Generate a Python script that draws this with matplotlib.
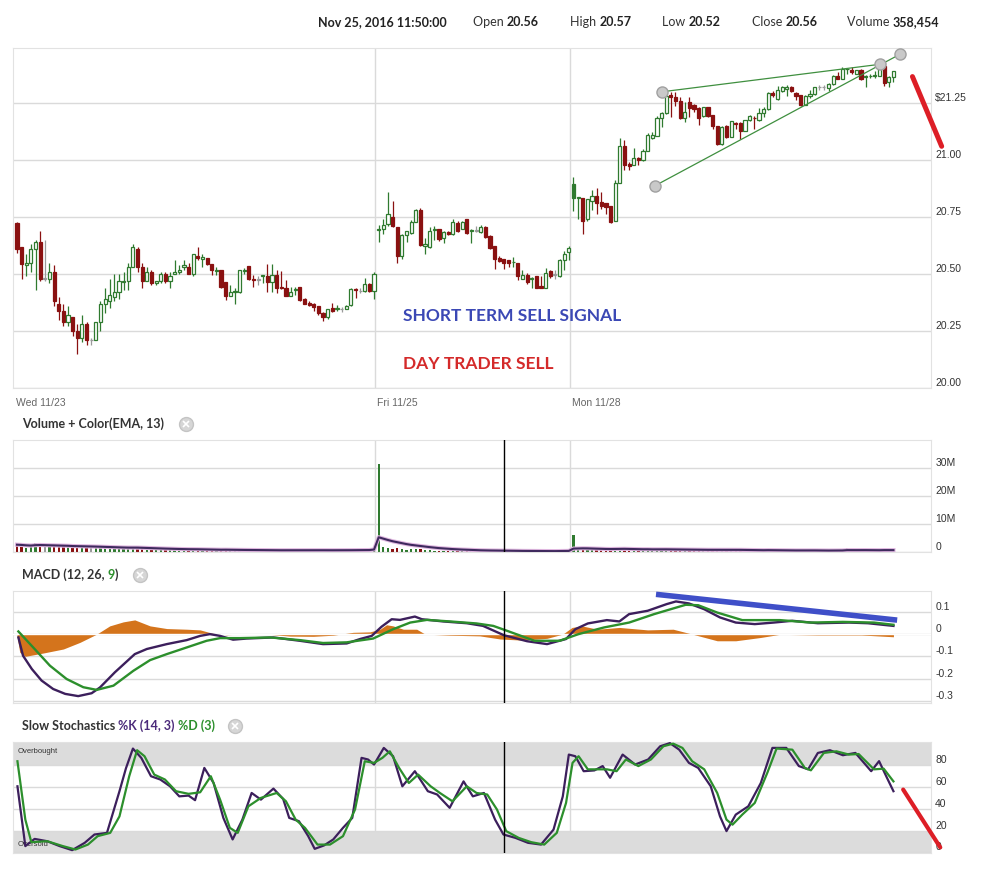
import numpy as np
import pandas as pd
import matplotlib
matplotlib.use('Agg')
import matplotlib.pyplot as plt
from matplotlib.lines import Line2D

# ---- 5-minute bars, Wed 11/23 (0-77), Fri 11/25 (78-119), Mon 11/28 (120-189) ----
opens = [20.725, 20.617, 20.54, 20.55, 20.61, 20.64, 20.48, 20.48, 20.51, 20.37,
         20.34, 20.29, 20.31, 20.25, 20.22, 20.28, 20.21, 20.21, 20.29, 20.37,
         20.38, 20.40, 20.42, 20.465, 20.47, 20.53, 20.61, 20.53, 20.47, 20.51,
         20.46, 20.47, 20.50, 20.47, 20.50, 20.51, 20.53, 20.53, 20.50, 20.58,
         20.565, 20.57, 20.545, 20.515, 20.52, 20.465, 20.405, 20.42, 20.42, 20.515,
         20.535, 20.48, 20.475, 20.49, 20.49, 20.465, 20.495, 20.445, 20.44, 20.405,
         20.43, 20.445, 20.39, 20.375, 20.37, 20.36, 20.33, 20.31, 20.35, 20.345,
         20.345, 20.345, 20.365, 20.435, 20.425, 20.425, 20.455, 20.425,
         20.695, 20.70, 20.72, 20.75, 20.705, 20.58, 20.67, 20.68, 20.73, 20.78,
         20.625, 20.62, 20.695, 20.70, 20.66, 20.685, 20.676, 20.725, 20.70, 20.74,
         20.69, 20.69, 20.683, 20.705, 20.668, 20.623, 20.57, 20.567, 20.564, 20.553,
         20.55, 20.48, 20.494, 20.48, 20.49, 20.447, 20.44, 20.515, 20.497, 20.49,
         20.564, 20.596,
         20.896, 20.835, 20.835, 20.74, 20.823, 20.842, 20.816, 20.81, 20.80, 20.735,
         20.90, 21.064, 20.985, 20.977, 21.01, 20.999, 21.042, 21.098, 21.108, 21.186,
         21.206, 21.284, 21.276, 21.262, 21.186, 21.254, 21.243, 21.23, 21.196, 21.232,
         21.199, 21.15, 21.069, 21.152, 21.10, 21.164, 21.164, 21.13, 21.177, 21.186,
         21.178, 21.206, 21.225, 21.295, 21.27, 21.305, 21.313, 21.32, 21.296, 21.287,
         21.244, 21.28, 21.29, 21.32, 21.32, 21.316, 21.335, 21.371, 21.357, 21.399,
         21.396, 21.38, 21.396, 21.365, 21.369, 21.371, 21.371, 21.415, 21.343, 21.367]
highs = [20.73, 20.62, 20.59, 20.63, 20.65, 20.69, 20.65, 20.55, 20.54, 20.40,
         20.37, 20.36, 20.31, 20.28, 20.32, 20.29, 20.22, 20.29, 20.38, 20.44,
         20.48, 20.50, 20.50, 20.51, 20.55, 20.63, 20.62, 20.55, 20.53, 20.52,
         20.47, 20.51, 20.51, 20.51, 20.56, 20.54, 20.56, 20.55, 20.59, 20.62,
         20.59, 20.57, 20.545, 20.53, 20.52, 20.465, 20.45, 20.44, 20.52, 20.525,
         20.535, 20.495, 20.49, 20.495, 20.545, 20.545, 20.52, 20.515, 20.475, 20.445,
         20.445, 20.445, 20.395, 20.38, 20.375, 20.36, 20.335, 20.345, 20.375, 20.365,
         20.355, 20.365, 20.44, 20.44, 20.44, 20.485, 20.46, 20.51,
         20.715, 20.74, 20.86, 20.82, 20.705, 20.675, 20.69, 20.738, 20.787, 20.79,
         20.66, 20.705, 20.71, 20.70, 20.688, 20.69, 20.743, 20.735, 20.735, 20.74,
         20.70, 20.713, 20.716, 20.713, 20.67, 20.623, 20.578, 20.567, 20.564, 20.575,
         20.55, 20.52, 20.505, 20.488, 20.493, 20.49, 20.527, 20.52, 20.516, 20.567,
         20.60, 20.623,
         20.928, 20.84, 20.835, 20.83, 20.867, 20.88, 20.86, 20.81, 20.80, 20.914,
         21.098, 21.09, 20.99, 21.053, 21.013, 21.05, 21.118, 21.123, 21.196, 21.21,
         21.294, 21.298, 21.30, 21.276, 21.254, 21.276, 21.247, 21.232, 21.235, 21.235,
         21.199, 21.152, 21.148, 21.155, 21.174, 21.167, 21.167, 21.178, 21.198, 21.196,
         21.23, 21.232, 21.298, 21.303, 21.325, 21.325, 21.328, 21.325, 21.298, 21.287,
         21.284, 21.31, 21.323, 21.328, 21.33, 21.338, 21.376, 21.386, 21.408, 21.401,
         21.408, 21.396, 21.40, 21.376, 21.38, 21.393, 21.43, 21.415, 21.371, 21.393]
lows = [20.594, 20.48, 20.49, 20.51, 20.43, 20.47, 20.47, 20.46, 20.36, 20.30,
        20.27, 20.27, 20.23, 20.15, 20.20, 20.19, 20.19, 20.21, 20.25, 20.33,
        20.35, 20.38, 20.39, 20.43, 20.43, 20.53, 20.51, 20.44, 20.47, 20.45,
        20.45, 20.46, 20.46, 20.44, 20.50, 20.50, 20.52, 20.50, 20.49, 20.56,
        20.53, 20.54, 20.495, 20.495, 20.44, 20.385, 20.405, 20.37, 20.415, 20.50,
        20.475, 20.445, 20.45, 20.46, 20.42, 20.42, 20.415, 20.435, 20.405, 20.405,
        20.41, 20.38, 20.37, 20.36, 20.34, 20.32, 20.295, 20.305, 20.335, 20.34,
        20.335, 20.345, 20.36, 20.395, 20.415, 20.42, 20.42, 20.39,
        20.64, 20.675, 20.713, 20.705, 20.55, 20.565, 20.64, 20.675, 20.73, 20.623,
        20.59, 20.616, 20.65, 20.646, 20.635, 20.67, 20.67, 20.683, 20.70, 20.676,
        20.635, 20.683, 20.68, 20.66, 20.61, 20.522, 20.552, 20.524, 20.53, 20.53,
        20.475, 20.48, 20.457, 20.44, 20.44, 20.44, 20.44, 20.483, 20.48, 20.487,
        20.52, 20.563,
        20.779, 20.743, 20.674, 20.735, 20.78, 20.765, 20.786, 20.765, 20.724, 20.735,
        20.90, 20.955, 20.955, 20.977, 20.98, 20.995, 21.042, 21.094, 21.105, 21.145,
        21.203, 21.19, 21.24, 21.18, 21.167, 21.19, 21.21, 21.155, 21.19, 21.19,
        21.137, 21.065, 21.065, 21.098, 21.10, 21.137, 21.093, 21.127, 21.174, 21.137,
        21.174, 21.19, 21.222, 21.276, 21.266, 21.298, 21.28, 21.30, 21.266, 21.24,
        21.242, 21.273, 21.288, 21.306, 21.306, 21.303, 21.332, 21.357, 21.357, 21.38,
        21.38, 21.38, 21.352, 21.32, 21.36, 21.36, 21.37, 21.327, 21.32, 21.343]
closes = [20.612, 20.543, 20.55, 20.61, 20.64, 20.48, 20.48, 20.51, 20.38, 20.34,
          20.29, 20.32, 20.25, 20.22, 20.28, 20.21, 20.21, 20.29, 20.37, 20.39,
          20.41, 20.42, 20.47, 20.47, 20.53, 20.62, 20.53, 20.47, 20.51, 20.46,
          20.47, 20.50, 20.47, 20.49, 20.51, 20.52, 20.54, 20.50, 20.59, 20.57,
          20.575, 20.545, 20.52, 20.52, 20.445, 20.405, 20.42, 20.425, 20.52, 20.52,
          20.48, 20.475, 20.475, 20.495, 20.465, 20.495, 20.44, 20.44, 20.405, 20.42,
          20.435, 20.385, 20.37, 20.365, 20.355, 20.33, 20.31, 20.345, 20.34, 20.35,
          20.345, 20.36, 20.435, 20.43, 20.425, 20.455, 20.425, 20.50,
          20.70, 20.715, 20.765, 20.71, 20.58, 20.67, 20.688, 20.73, 20.78, 20.627,
          20.632, 20.69, 20.70, 20.653, 20.683, 20.676, 20.73, 20.69, 20.73, 20.68,
          20.695, 20.69, 20.708, 20.665, 20.616, 20.568, 20.556, 20.55, 20.55, 20.555,
          20.49, 20.497, 20.467, 20.483, 20.44, 20.44, 20.505, 20.49, 20.497, 20.564,
          20.59, 20.613,
          20.835, 20.84, 20.735, 20.828, 20.845, 20.81, 20.80, 20.794, 20.73, 20.90,
          21.064, 20.977, 20.973, 21.01, 20.999, 21.042, 21.11, 21.112, 21.186, 21.206,
          21.28, 21.276, 21.262, 21.186, 21.213, 21.228, 21.225, 21.184, 21.232, 21.193,
          21.148, 21.069, 21.145, 21.10, 21.17, 21.157, 21.13, 21.177, 21.193, 21.184,
          21.206, 21.225, 21.295, 21.288, 21.31, 21.32, 21.32, 21.303, 21.28, 21.243,
          21.28, 21.29, 21.32, 21.32, 21.32, 21.335, 21.371, 21.357, 21.40, 21.40,
          21.386, 21.396, 21.357, 21.37, 21.371, 21.375, 21.408, 21.34, 21.367, 21.39]
volume_m = [2.6, 2.0, 1.6, 1.8, 3.3, 2.8, 2.2, 1.9, 2.5, 2.1,
            2.0, 1.7, 1.6, 1.9, 2.1, 1.8, 1.4, 1.8, 1.6, 1.5,
            1.4, 1.3, 1.5, 1.2, 1.3, 1.6, 1.5, 1.2, 1.0, 1.1,
            0.9, 1.0, 0.9, 0.8, 0.9, 0.8, 0.7, 0.9, 1.0, 0.8,
            0.7, 0.6, 0.7, 0.5, 0.8, 0.9, 0.6, 0.5, 0.8, 0.6,
            0.6, 0.5, 0.4, 0.5, 0.7, 0.6, 0.7, 0.5, 0.6, 0.5,
            0.5, 0.7, 0.6, 0.5, 0.6, 0.7, 0.8, 0.7, 0.5, 0.6,
            0.5, 0.6, 0.9, 0.7, 0.6, 0.9, 0.8, 2.0,
            31.5, 1.8, 1.4, 1.2, 1.6, 1.0, 0.8, 0.9, 1.1, 0.9,
            0.7, 0.6, 0.5, 0.4, 0.5, 0.3, 0.5, 0.4, 0.4, 0.5,
            0.3, 0.2, 0.3, 0.3, 0.4, 0.5, 0.3, 0.3, 0.2, 0.2,
            0.4, 0.3, 0.3, 0.2, 0.4, 0.2, 0.4, 0.3, 0.2, 0.4,
            0.5, 0.6,
            6.2, 1.5, 1.6, 1.2, 0.9, 1.0, 0.8, 0.7, 0.9, 1.3,
            1.4, 1.1, 0.8, 0.9, 0.7, 0.8, 1.0, 0.7, 1.0, 0.9,
            1.0, 0.8, 0.7, 0.9, 0.8, 0.7, 0.6, 0.8, 0.6, 0.7,
            0.8, 1.0, 0.9, 0.8, 0.7, 0.6, 0.7, 0.6, 0.5, 0.5,
            0.6, 0.5, 0.8, 0.5, 0.6, 0.5, 0.4, 0.5, 0.5, 0.6,
            0.6, 0.5, 0.6, 0.4, 0.4, 0.5, 0.6, 0.5, 0.7, 1.4,
            0.6, 0.7, 0.8, 0.6, 0.5, 0.5, 0.7, 0.9, 0.6, 0.7]

day_labels = ['Wed 11/23', 'Fri 11/25', 'Mon 11/28']
day_starts = [0, 78, 120]
cursor_bar = 105

# MACD (12, 26, 9) at the given bars
macd_idx = [0.3, 1.3, 3.2, 5.3, 7.8, 10.4, 13.2, 16.1, 17.9, 21.1, 25.4, 28, 32.3, 36.6, 39.5,
            41.6, 43.8, 46.6, 49.5, 55.3, 61, 66, 71.1, 74, 76.5, 78.6, 80.8, 82.6, 85.8,
            87.3, 91.9, 97, 100.5, 105, 110, 114.3, 118.4, 120.4, 123.1, 127.2, 129.9, 132,
            136, 140.1, 142.1, 144.9, 148.2, 151.6, 155, 159.1, 163.2, 167.2, 172.7, 179.4,
            183.5, 189]
macd_line = [-0.015, -0.097, -0.157, -0.209, -0.247, -0.269, -0.279, -0.266, -0.24, -0.172,
             -0.09, -0.067, -0.045, -0.027, -0.008, 0.0, -0.008, -0.025, -0.02, -0.015,
             -0.03, -0.045, -0.042, -0.022, -0.008, 0.033, 0.067, 0.064, 0.079, 0.067,
             0.057, 0.049, 0.037, -0.005, -0.032, -0.045, -0.022, 0.022, 0.048, 0.063,
             0.057, 0.09, 0.105, 0.135, 0.147, 0.138, 0.112, 0.075, 0.052, 0.045, 0.052,
             0.06, 0.049, 0.052, 0.049, 0.037]
signal_idx = [0.3, 3.5, 7.1, 10.7, 14.3, 17.2, 20.8, 25.1, 28.7, 32.3, 36.6, 40.9, 43.8,
              48.1, 54.6, 61, 66, 71.1, 76.8, 81.1, 84.8, 88.4, 93.4, 99.1, 102.7, 105,
              111.6, 117, 121.1, 126.6, 132, 137.4, 144.2, 146.9, 151, 156.4, 164.5,
              171.2, 178.1, 184.8, 189]
signal_line = [0.012, -0.06, -0.142, -0.202, -0.239, -0.251, -0.232, -0.165, -0.117, -0.09,
               -0.06, -0.03, -0.018, -0.018, -0.015, -0.027, -0.04, -0.037, -0.02, 0.022,
               0.052, 0.064, 0.057, 0.048, 0.037, 0.02, -0.03, -0.03, 0.0, 0.03, 0.052,
               0.09, 0.132, 0.13, 0.097, 0.063, 0.063, 0.052, 0.055, 0.052, 0.042]
hist_idx = [0, 0.6, 1.8, 5.7, 10, 13.6, 17.2, 20, 22.9, 25.4, 28.7, 32.3, 36.6, 39.5, 42.3,
            45.2, 48, 53.9, 58.9, 63.9, 68.2, 72.5, 76.1, 78.3, 79.7, 81.1, 83.3, 86.2, 88,
            93.4, 99.8, 104.2, 108.9, 114.3, 117.7, 119.7, 121.8, 125.2, 129.9, 136, 141.5,
            145.6, 151, 155, 160.4, 164.5, 172.7, 182.1, 189]
hist_vals = [-0.008, -0.082, -0.1, -0.085, -0.067, -0.037, 0.0, 0.037, 0.055, 0.064, 0.037,
             0.025, 0.022, 0.019, 0.003, -0.003, 0.0, 0.0, -0.009, -0.01, -0.005, 0.008,
             0.01, 0.022, 0.042, 0.037, 0.022, 0.022, 0.0, -0.005, -0.008, -0.022, -0.027,
             -0.019, 0.0, 0.03, 0.037, 0.022, 0.03, 0.019, 0.022, 0.0, -0.03, -0.03,
             -0.015, -0.001, -0.004, -0.004, -0.012]

# Slow stochastics %K (14, 3) and %D (3)
k_idx = [0.1, 1.8, 3.8, 6.5, 9.2, 11.9, 14.6, 16.7, 19.4, 22.1, 23.5, 25, 26.8, 28.9, 30.9,
         33, 35, 37, 38.4, 40.4, 42.4, 44.5, 46.5, 48.6, 50.6, 52.6, 55.3, 57.4, 58.7, 60.8,
         62.8, 64.2, 66.2, 68.2, 70.3, 72.3, 74.3, 75.7, 77, 79.1, 81.1, 83.1, 85.8, 88.6,
         90.6, 93.3, 96.3, 98.3, 100.7, 103.1, 104.9, 107.5, 110.2, 113, 115.7, 117.7, 119,
         120.4, 122.2, 124.5, 126.3, 127.9, 130.6, 133.3, 136.1, 138.7, 140.8, 142.8, 144.9,
         146.9, 149.6, 151.6, 153, 155, 157.7, 160.4, 162.9, 165.9, 168.6, 170.6, 172.7,
         175.3, 178.1, 180.8, 184.2, 185.9, 187.6, 189]
k_vals = [60.5, 5.8, 12.4, 10.3, 5.8, 2.1, 8.8, 16.4, 17.9, 56, 77, 95, 86.5, 69.7, 66.7,
          60.5, 51.3, 52, 47.8, 77.3, 63.5, 31.6, 11.9, 30, 54.4, 48.3, 58.4, 48.9, 31.6,
          28.6, 14.9, 3.3, 6.4, 11.9, 22.5, 31.6, 86.5, 85, 80.4, 95.6, 88, 60.5, 74.3, 56,
          53, 40.8, 65, 51.3, 54.4, 30, 16.4, 13.3, 8.8, 7.2, 20.9, 51.3, 89.5, 88, 74.3,
          75, 79, 68.3, 89.5, 80.4, 85, 97.1, 100, 94, 81.9, 77.3, 60.5, 33, 19.5, 34.6,
          42.2, 63.5, 95.6, 95.6, 79, 76, 91, 93.5, 88.9, 91, 74.3, 83.5, 68.3, 56]
d_idx = [0.1, 1.8, 3.1, 6.5, 9.9, 12.6, 15.3, 17.4, 20.1, 22.1, 24.2, 25.9, 27.5, 29.6,
         31.9, 34.3, 37, 39.5, 41.8, 43.8, 45.9, 47.6, 49.9, 52.6, 56, 58, 60.1, 62.1, 64.8,
         67.5, 70.3, 72.9, 75, 77, 78.8, 80.4, 82.4, 84.5, 86.5, 89.2, 91.2, 93.9, 97, 99.1,
         101.4, 103.5, 105.5, 108.2, 110.9, 113.7, 116.4, 118.4, 119.8, 121.1, 123.1, 125.2,
         127.2, 129.3, 131.3, 134, 136.7, 139.4, 141.5, 143.5, 145.6, 148.2, 151, 153,
         154.3, 156.4, 159.1, 161.8, 163.8, 167.2, 169.9, 171.2, 174, 176.7, 179.4, 181.5,
         184.8, 186.9, 189]
d_vals = [83.4, 30, 9.4, 10.3, 5.8, 2.7, 7.2, 14.9, 17.9, 33, 69.7, 93.5, 88, 71.2, 66.7,
          56, 53.6, 55, 69.7, 48.3, 22.5, 17.9, 42.2, 49.9, 54.4, 46.8, 30, 22.5, 7.2, 7.2,
          14.9, 39.3, 83.4, 81.9, 86.5, 92.5, 77.3, 63.5, 71.2, 60.5, 54.4, 46.8, 60.5,
          54.4, 53, 39.3, 19.5, 13.3, 9.4, 7.2, 17.9, 45.3, 81.9, 88, 76, 76, 76, 74.3, 85,
          79, 85, 97.1, 99.5, 95.6, 83.4, 76, 54.4, 30, 25.4, 34.6, 45.3, 72.8, 95, 94,
          77.3, 75.1, 91, 92.5, 89.5, 90, 76, 76.6, 65]

# hand-drawn annotations (bar index, value)
upper_trend = ([139.0, 186.1], [21.30, 21.421])
lower_trend = ([137.5, 190.4], [20.887, 21.465])
price_red = ([193.1, 199.4], [21.367, 21.061])
macd_blue = ([137.8, 189.8], [0.179, 0.063])
stoch_red = ([191.1, 199.1], [57.5, 4.6])

header_time = 'Nov 25, 2016 11:50:00'
header_fields = ['Open', 'High', 'Low', 'Close', 'Volume']
header_values = ['20.56', '20.57', '20.52', '20.56', '358,454']

# ---------------------------------------------------------------
plt.rcParams['font.family'] = ['Liberation Sans', 'DejaVu Sans']
W, H = 986, 876
fig = plt.figure(figsize=(W / 100, H / 100), dpi=100)
rend = fig.canvas.get_renderer()

GREEN, RED, GRAY = '#2f7a2f', '#8a1111', '#9a9a9a'
PURPLE, LGREEN = '#3c1f5c', '#2c8f2c'
GRID = '#dadada'
XMIN, XMAX = -0.86, 197.1


def box(l, t, r, b):
    return fig.add_axes([l / W, 1 - b / H, (r - l) / W, (b - t) / H])


def style(ax, ticks, labels, ylim):
    ax.set_xlim(XMIN, XMAX)
    ax.set_ylim(*ylim)
    ax.set_yticks(ticks)
    ax.set_yticklabels(labels)
    ax.yaxis.tick_right()
    ax.tick_params(axis='y', length=0, pad=3, labelsize=7.5, labelcolor='#333333')
    for lab in ax.get_yticklabels():
        lab.set_va('bottom')
    ax.set_xticks([])
    ax.grid(axis='y', color=GRID, lw=1)
    ax.set_axisbelow(True)
    for s in ax.spines.values():
        s.set_color('#e2e2e2')
    for d in day_starts[1:]:
        ax.axvline(d - 0.8, color=GRID, lw=1, zorder=0)


def chain(x, y, pieces, size=9):
    for s, col, wt in pieces:
        t = fig.text(x / W, 1 - y / H, s, color=col, fontweight=wt, fontsize=size,
                     family='Lato', va='center', ha='left')
        x += t.get_window_extent(renderer=rend).width
    return x


def close_icon(x, y):
    fig.add_artist(Line2D([x / W], [1 - y / H], marker='o', ms=10, mfc='#d6d6d6',
                          mec='#c4c4c4', transform=fig.transFigure))
    fig.add_artist(Line2D([x / W], [1 - y / H], marker='x', ms=4, mew=1.2,
                          color='white', transform=fig.transFigure))


o, h, l, c = map(np.array, (opens, highs, lows, closes))
idx = np.arange(len(c))
prev_h = np.r_[h[0] + 1, h[:-1]]
edge, face = [], []
for i in idx:
    if np.isclose(c[i], o[i]):
        edge.append(GRAY); face.append('white')
    elif c[i] > o[i]:
        edge.append(GREEN); face.append('white')
    elif c[i] > prev_h[i]:
        edge.append(GREEN); face.append(GREEN)
    else:
        edge.append(RED); face.append(RED)

# ---- price panel ----
ax = box(13, 48, 931, 388)
style(ax, [20.0, 20.25, 20.5, 20.75, 21.0, 21.25],
      ['20.00', '20.25', '20.50', '20.75', '21.00', '$21.25'], (20.0, 21.4925))
ax.vlines(idx, l, h, colors=edge, lw=0.9, zorder=2)
ax.bar(idx, np.maximum(np.abs(c - o), 0.0015), bottom=np.minimum(o, c), width=0.68,
       color=face, edgecolor=edge, lw=0.9, zorder=3)
for xs, ys in (upper_trend, lower_trend):
    ax.plot(xs, ys, color='#3f8f3f', lw=0.9, zorder=4)
    ax.plot(xs[0], ys[0], 'o', ms=8, mfc='#c9c9c9', mec='#a0a0a0', zorder=5)
    ax.plot(xs[1], ys[1], 'o', ms=8, mfc='#c9c9c9', mec='#a0a0a0', zorder=5, clip_on=False)
ax.plot(*price_red, color='#dd1e26', lw=3.6, solid_capstyle='round', clip_on=False, zorder=6)
fig.text(403 / W, 1 - 316 / H, 'SHORT TERM SELL SIGNAL', color='#3b48b5', fontsize=12.5,
         fontweight='bold', family='Lato', va='center')
fig.text(403 / W, 1 - 364 / H, 'DAY TRADER SELL', color='#d42a2a', fontsize=12.5,
         fontweight='bold', family='Lato', va='center')
for lab, d in zip(day_labels, day_starts):
    ax.text(d - 0.3, -0.03, lab, transform=ax.get_xaxis_transform(), ha='left', va='top',
            fontsize=7.5, color='#666666')

# header
chain(318, 22, [(header_time, '#222222', 'bold')])
for x0, f, v in zip([473, 570, 662, 752, 847], header_fields, header_values):
    chain(x0, 22, [(f + ' ', '#333333', 'normal'), (v, '#222222', 'bold')])

# ---- volume panel ----
axv = box(13, 440, 931, 552)
style(axv, [0, 10, 20, 30], ['0', '10M', '20M', '30M'], (0, 40))
axv.bar(idx, volume_m, width=0.5, color=edge, zorder=2)
ema = pd.Series(volume_m).ewm(span=13, adjust=False).mean()
axv.plot(idx, ema, color='#e0b8e0', lw=3, zorder=3)
axv.plot(idx, ema, color='#3f2a5e', lw=1.5, zorder=4)
axv.axvline(cursor_bar, color='black', lw=1, zorder=5)
end = chain(22, 424, [('Volume + Color(EMA, 13)', '#333333', 'bold')])
close_icon(end + 22, 424)

# ---- MACD panel ----
axm = box(13, 591, 931, 703)
style(axm, [-0.3, -0.2, -0.1, 0, 0.1], ['-0.3', '-0.2', '-0.1', '0', '0.1'], (-0.31, 0.194))
axm.fill_between(hist_idx, hist_vals, 0, color='#d4741c', lw=0, zorder=2)
axm.axhline(0, color='white', lw=1.0, zorder=3)
axm.plot(macd_idx, macd_line, color=PURPLE, lw=1.7, zorder=4)
axm.plot(signal_idx, signal_line, color=LGREEN, lw=1.7, zorder=5)
axm.plot(*macd_blue, color='#3f4fc8', lw=4, solid_capstyle='butt', zorder=6)
axm.axvline(cursor_bar, color='black', lw=1, zorder=7)
end = chain(22, 575, [('MACD (12, 26, ', '#333333', 'bold'), ('9', LGREEN, 'bold'),
                      (')', '#333333', 'bold')])
close_icon(end + 22, 575)

# ---- slow stochastics panel ----
axs = box(13, 742, 931, 853)
style(axs, [0, 20, 40, 60, 80], ['0', '20', '40', '60', '80'], (-0.5, 101))
axs.axhspan(80, 101, color='#dcdcdc', lw=0, zorder=0)
axs.axhspan(-0.5, 20, color='#dcdcdc', lw=0, zorder=0)
axs.plot(k_idx, k_vals, color=PURPLE, lw=1.6, zorder=4)
axs.plot(d_idx, d_vals, color=LGREEN, lw=1.6, zorder=5)
axs.plot(*stoch_red, color='#dd1e26', lw=3, solid_capstyle='round', clip_on=False, zorder=6)
axs.axvline(cursor_bar, color='black', lw=1, zorder=7)
axs.text(0.005, 0.9, 'Overbought', transform=axs.transAxes, fontsize=5.5, color='#333333')
axs.text(0.005, 0.06, 'Oversold', transform=axs.transAxes, fontsize=5.5, color='#333333')
end = chain(22, 726, [('Slow Stochastics ', '#333333', 'bold'), ('%K (14, 3) ', '#4b2a7a', 'bold'),
                      ('%D (3)', LGREEN, 'bold')])
close_icon(end + 20, 726)

fig.savefig('out.png', dpi=100)
